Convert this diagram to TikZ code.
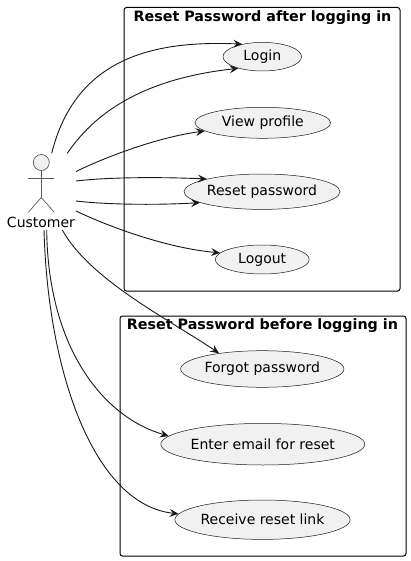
\documentclass[tikz,border=0pt]{standalone}
\usepackage{fontspec}
\setmainfont{DejaVu Sans}
\usetikzlibrary{shapes.geometric,arrows.meta}
\definecolor{ucfill}{HTML}{F1F1F1}
\definecolor{ucline}{HTML}{181818}
\definecolor{actorline}{HTML}{5A5A5A}
\tikzset{
  usecase/.style={ellipse, draw=ucline, line width=0.5pt, fill=ucfill, inner sep=0pt, font=\fontsize{14}{16}\selectfont},
  pkgbox/.style={draw=black, line width=1pt, rounded corners=2.5pt},
  pkgtitle/.style={anchor=base, font=\fontsize{14.3}{16}\selectfont\bfseries},
  link/.style={draw=ucline, line width=0.9pt, -{Stealth[length=9pt,width=8pt,inset=3.5pt]}},
  actorstroke/.style={draw=actorline, line width=0.7pt}
}
\begin{document}
\begin{tikzpicture}[x=1pt,y=-1pt]
\useasboundingbox (0,0) rectangle (411,561);
% packages
\draw[pkgbox] (124,7.5) rectangle (400,291);
\node[pkgtitle] (t1) at (262.5,21.5) {Reset Password after logging in};
\draw[pkgbox] (120,316) rectangle (406,556);
\node[pkgtitle] (t2) at (262.5,329.5) {Reset Password before logging in};
% use cases
\node[usecase, minimum width=78.6pt, minimum height=28.6pt] (login) at (262.3,56.7) {Login};
\node[usecase, minimum width=135.6pt, minimum height=31pt] (view) at (262.8,122.8) {View profile};
\node[usecase, minimum width=156pt, minimum height=35.4pt] (reset) at (262,191.7) {Reset password};
\node[usecase, minimum width=94pt, minimum height=29pt] (logout) at (262.2,259.5) {Logout};
\node[usecase, minimum width=160.6pt, minimum height=36.6pt] (forgot) at (262.3,369) {Forgot password};
\node[usecase, minimum width=187.6pt, minimum height=41.6pt] (enter) at (262.8,444.2) {Enter email for reset};
\node[usecase, minimum width=168.4pt, minimum height=39.4pt] (receive) at (262.5,519.7) {Receive reset link};
% actor
\draw[actorstroke, fill=ucfill] (41.3,162.5) circle[radius=8pt];
\draw[actorstroke] (41.3,170.5) -- (41.3,197.5);
\draw[actorstroke] (28.3,178.3) -- (54.3,178.3);
\draw[actorstroke] (28.3,212.3) -- (41.3,197.5) -- (54.3,212.3);
\node[anchor=base, font=\fontsize{14}{16}\selectfont, inner sep=0pt] (customer) at (41,227) {Customer};
% connector start points
\coordinate (s1) at (51.7,153.3);
\coordinate (s2) at (67.3,153.3);
\coordinate (s3) at (76,171.5);
\coordinate (s4) at (76,181);
\coordinate (s5) at (76,201);
\coordinate (s6) at (76,211);
\coordinate (s7) at (62.3,230);
\coordinate (s8) at (46.7,230);
\coordinate (s9) at (44,230);
% connectors
\draw[link] (s1) .. controls (75,60) and (150,40) .. (login.148);
\draw[link] (s2) .. controls (98,108) and (150,78) .. (login.206);
\draw[link] (s3) .. controls (110,155) and (160,137) .. (view.188);
\draw[link] (s4) .. controls (110,177) and (160,177) .. (reset.167.4);
\draw[link] (s5) .. controls (110,205) and (160,205) .. (reset.190.6);
\draw[link] (s6) .. controls (105,225) and (165,248) .. (logout.171.6);
\draw[link] (s7) .. controls (90,280) and (170,320) .. (forgot.160.4);
\draw[link] (s8) .. controls (48,350) and (105,418) .. (enter.175.1);
\draw[link] (s9) .. controls (48,375) and (95,505) .. (receive.176.7);
\end{tikzpicture}
\end{document}
